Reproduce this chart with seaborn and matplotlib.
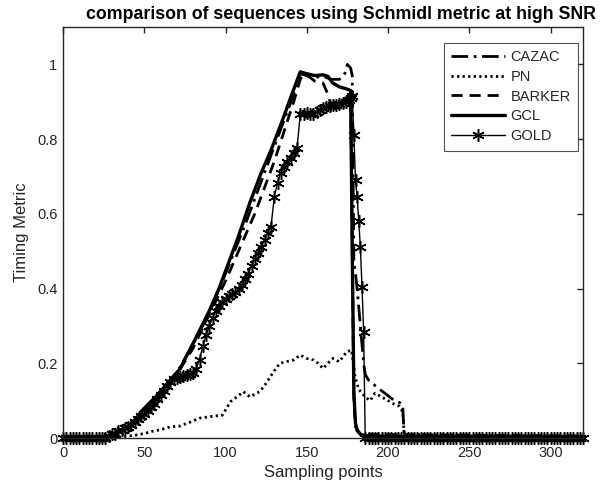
import numpy as np
import pandas as pd
import matplotlib
matplotlib.use('Agg')
import matplotlib.pyplot as plt
import seaborn as sns

# readings
gcl_x = [0, 26, 30, 36, 42, 49, 57, 62, 72, 82, 90, 96, 102, 108, 115, 122, 128, 135, 140, 146,
         150, 155, 160, 163, 166, 170, 174, 177, 178, 179, 180, 181, 183, 186, 200, 320]
gcl_y = [0.003, 0.003, 0.01, 0.02, 0.035, 0.075, 0.11, 0.135, 0.185, 0.27, 0.34, 0.40, 0.47, 0.54,
         0.63, 0.71, 0.77, 0.85, 0.91, 0.98, 0.975, 0.97, 0.972, 0.968, 0.95, 0.94, 0.935, 0.93,
         0.5, 0.12, 0.04, 0.02, 0.01, 0.006, 0.004, 0.004]

cazac_x = [0, 26, 30, 40, 50, 60, 70, 80, 90, 100, 106, 112, 118, 124, 130, 136, 142, 146, 150,
           155, 160, 165, 170, 172, 174, 175, 177, 178, 179, 180, 181, 182, 183, 184, 185, 186,
           188, 190, 192, 195, 198, 201, 204, 207, 209, 210, 320]
cazac_y = [0.003, 0.003, 0.01, 0.032, 0.072, 0.123, 0.175, 0.25, 0.335, 0.44, 0.505, 0.57, 0.64,
           0.71, 0.78, 0.85, 0.92, 0.975, 0.97, 0.965, 0.968, 0.96, 0.96, 0.965, 0.98, 1.0, 0.99,
           0.97, 0.47, 0.44, 0.40, 0.35, 0.30, 0.25, 0.20, 0.17, 0.155, 0.15, 0.14, 0.13, 0.12,
           0.11, 0.10, 0.095, 0.09, 0.003, 0.003]

barker_x = [0, 26, 30, 40, 50, 60, 70, 80, 90, 100, 106, 112, 118, 124, 130, 136, 142, 146, 148,
            152, 155, 160, 163, 165, 170, 175, 177, 178, 179, 180, 183, 320]
barker_y = [0.002, 0.002, 0.01, 0.03, 0.07, 0.12, 0.17, 0.24, 0.33, 0.42, 0.48, 0.54, 0.60, 0.67,
            0.74, 0.82, 0.90, 0.96, 0.975, 0.965, 0.955, 0.95, 0.92, 0.89, 0.895, 0.91, 0.92, 0.5,
            0.1, 0.03, 0.01, 0.005]

pn_x = [0, 35, 40, 45, 50, 55, 60, 66, 72, 78, 84, 90, 98, 100, 103, 107, 111, 115, 121, 124, 127,
        130, 133.5, 138, 142, 146, 150, 154, 157, 160, 163, 166, 170, 174.6, 177.6, 179.7, 182,
        186, 189, 192, 196, 200, 204, 207, 209, 210, 320]
pn_y = [0.003, 0.003, 0.005, 0.008, 0.012, 0.018, 0.022, 0.03, 0.032, 0.042, 0.053, 0.057, 0.061,
        0.075, 0.097, 0.11, 0.124, 0.11, 0.124, 0.14, 0.16, 0.18, 0.2, 0.205, 0.209, 0.222, 0.213,
        0.209, 0.2, 0.186, 0.2, 0.213, 0.204, 0.231, 0.235, 0.164, 0.13, 0.11, 0.10, 0.12, 0.11,
        0.10, 0.09, 0.085, 0.07, 0.01, 0.003]

gold_x = list(range(0, 177, 2)) + list(range(177, 187)) + list(range(188, 321, 2))
gold_y = ([0.0] * 14 +
          [0.005, 0.01, 0.012, 0.018, 0.022, 0.027, 0.03, 0.035, 0.042, 0.05, 0.058, 0.065,
           0.072, 0.082, 0.092, 0.105, 0.115, 0.125, 0.14, 0.15, 0.158, 0.16, 0.162, 0.165,
           0.168, 0.172, 0.175, 0.185, 0.21, 0.245, 0.275, 0.30, 0.32, 0.34, 0.352, 0.365,
           0.372, 0.38, 0.385, 0.39, 0.40, 0.41, 0.425, 0.44, 0.46, 0.48, 0.495, 0.51, 0.53,
           0.55, 0.565, 0.645, 0.683, 0.71, 0.725, 0.74, 0.75, 0.762, 0.775, 0.866, 0.868,
           0.87, 0.866, 0.868, 0.872, 0.878, 0.882, 0.886, 0.888, 0.89, 0.89, 0.893, 0.896,
           0.90, 0.905] +
          [0.91, 0.914, 0.81, 0.69, 0.645, 0.58, 0.51, 0.405, 0.285, 0.0] +
          [0.0] * 67)

sns.set_style('white')
plt.rcParams['font.family'] = ['Liberation Sans', 'DejaVu Sans']
txt = '#262626'

fig = plt.figure(figsize=(6.03, 4.92), dpi=100)
ax = fig.add_axes([63 / 603, 54 / 492, 520 / 603, 411 / 492])

sns.lineplot(x=cazac_x, y=cazac_y, ax=ax, color='black', lw=2, linestyle=(0, (6, 2, 1, 2)),
             label='CAZAC', sort=False, estimator=None)
sns.lineplot(x=pn_x, y=pn_y, ax=ax, color='black', lw=2, linestyle=(0, (0.8, 1.2)),
             label='PN', sort=False, estimator=None)
sns.lineplot(x=barker_x, y=barker_y, ax=ax, color='black', lw=2, linestyle=(0, (4, 2.5)),
             label='BARKER', sort=False, estimator=None)
sns.lineplot(x=gcl_x, y=gcl_y, ax=ax, color='black', lw=2.4, linestyle='-',
             label='GCL', sort=False, estimator=None)
sns.lineplot(x=gold_x, y=gold_y, ax=ax, color='black', lw=1, marker=(6, 2, 0), markersize=9,
             markeredgewidth=1.1, markeredgecolor='black', label='GOLD', sort=False,
             estimator=None, clip_on=False)

ax.set_xlim(0, 320)
ax.set_ylim(0, 1.1)
ax.set_xticks([0, 50, 100, 150, 200, 250, 300])
ax.set_yticks([0, 0.2, 0.4, 0.6, 0.8, 1])
ax.set_yticklabels(['0', '0.2', '0.4', '0.6', '0.8', '1'])
ax.tick_params(direction='in', top=True, right=True, length=4, width=1, labelsize=10.5,
               colors=txt, labelcolor=txt, pad=4)
ax.tick_params(axis='x', pad=6)
for s in ax.spines.values():
    s.set_color(txt)
    s.set_linewidth(1)

ax.set_title('comparison of sequences using Schmidl metric at high SNR', fontsize=12.8,
             fontweight='bold', color='black', pad=6, x=0.535)
ax.set_xlabel('Sampling points', fontsize=12, color=txt, labelpad=3)
ax.set_ylabel('Timing Metric', fontsize=12, color=txt, labelpad=6)

leg = ax.legend(loc='upper right', bbox_to_anchor=(0.99, 0.962), fontsize=10.5, frameon=True,
                fancybox=False, handlelength=3.7, handletextpad=0.35, borderpad=0.5,
                labelspacing=0.4, borderaxespad=0)
leg.get_frame().set_edgecolor(txt)
leg.get_frame().set_linewidth(0.8)
for t in leg.get_texts():
    t.set_color(txt)

fig.savefig('out.png', dpi=100)
